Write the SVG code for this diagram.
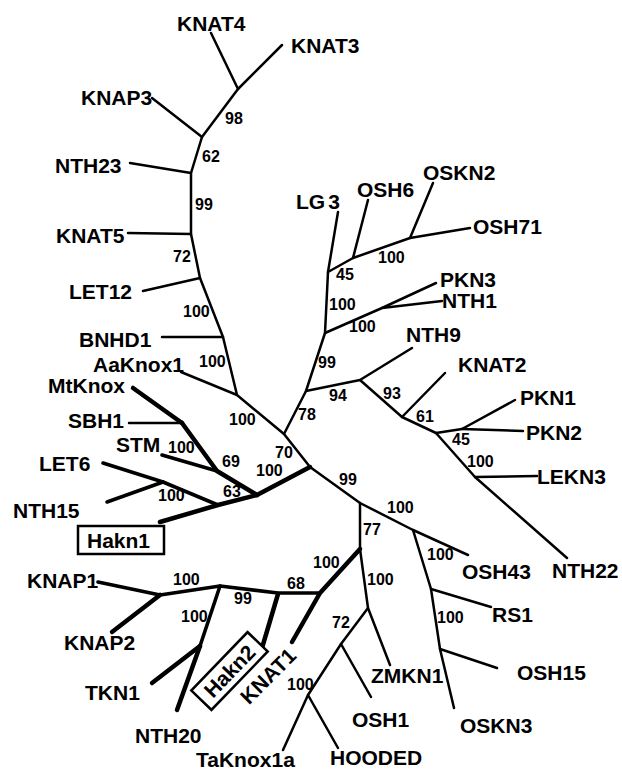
<svg xmlns="http://www.w3.org/2000/svg" width="622" height="771" viewBox="0 0 622 771">
<style>
.e{fill:none;stroke:#000;stroke-width:2.5;stroke-linecap:round;stroke-linejoin:round}
.m{stroke-width:3.6}
.t{stroke-width:4.5}
.lb{font-family:"Liberation Sans",Arial,sans-serif;font-weight:bold;font-size:21px;fill:#000}
.n{font-family:"Liberation Sans",Arial,sans-serif;font-weight:bold;font-size:16px;fill:#000}
.box{fill:#fff;stroke:#000;stroke-width:2.5}
</style>
<rect width="622" height="771" fill="#fff"/>
<g id="connectors">
<polyline class="e" points="211,33 238,89 282,45"/>
<polyline class="e" points="238,89 202,137 191,173 191,234 200,278 223,337 237,395 284,434 310,467"/>
<line class="e" x1="152" y1="98" x2="202" y2="137"/>
<line class="e" x1="130" y1="163" x2="191" y2="173"/>
<line class="e" x1="128" y1="233" x2="191" y2="234"/>
<line class="e" x1="143" y1="291" x2="200" y2="278"/>
<line class="e" x1="162" y1="337" x2="223" y2="337"/>
<line class="e" x1="181" y1="372" x2="237" y2="395"/>
<polyline class="e" points="284,434 306,391 325,333 328,272 338,212"/>
<polyline class="e" points="306,391 360,380 412,348"/>
<polyline class="e" points="360,380 402,417 436,433 475,477 567,558"/>
<line class="e" x1="402" y1="417" x2="445" y2="373"/>
<polyline class="e" points="436,433 462,429 515,400"/>
<line class="e" x1="462" y1="429" x2="523" y2="431"/>
<line class="e" x1="475" y1="477" x2="537" y2="476"/>
<polyline class="e" points="325,333 382,308 436,283"/>
<line class="e" x1="382" y1="308" x2="442" y2="301"/>
<polyline class="e" points="328,272 353,258 410,238 470,228"/>
<line class="e" x1="353" y1="258" x2="368" y2="200"/>
<line class="e" x1="410" y1="238" x2="433" y2="183"/>
<polyline class="e" points="310,467 360,503 413,530 468,555"/>
<polyline class="e" points="413,530 431,589 440,649 454,708"/>
<line class="e" x1="431" y1="589" x2="491" y2="607"/>
<line class="e" x1="440" y1="649" x2="497" y2="668"/>
<polyline class="e" points="360,503 360,549 368,608 390,665"/>
<polyline class="e" points="368,608 341,644 308,695 283,750"/>
<line class="e" x1="341" y1="644" x2="371" y2="697"/>
<line class="e" x1="308" y1="695" x2="338" y2="748"/>
<polyline class="e t" points="360,549 320,593 292,642"/>
<polyline class="e m" points="320,593 278,593 220,586 160,595 98,582"/>
<line class="e t" x1="278" y1="594" x2="262" y2="648"/>
<line class="e t" x1="160" y1="595" x2="112" y2="632"/>
<polyline class="e m" points="220,586 200,646"/>
<polyline class="e t" points="200,646 177,710"/>
<line class="e t" x1="200" y1="646" x2="152" y2="683"/>
<polyline class="e t" points="310,467 257,495 218,505 160,522"/>
<line class="e t" x1="133" y1="388" x2="182" y2="423"/>
<line class="e" x1="129" y1="423" x2="180" y2="423"/>
<polyline class="e t" points="182,423 217,471 257,495"/>
<line class="e m" x1="162" y1="455" x2="217" y2="471"/>
<polyline class="e m" points="103,463 163,482 218,505"/>
<line class="e m" x1="107" y1="502" x2="163" y2="482"/>
</g>
<g id="support">
<text class="n" x="225" y="124">98</text>
<text class="n" x="202" y="162">62</text>
<text class="n" x="195" y="210">99</text>
<text class="n" x="173" y="262">72</text>
<text class="n" x="183" y="317">100</text>
<text class="n" x="199" y="367">100</text>
<text class="n" x="229" y="425">100</text>
<text class="n" x="275" y="458">70</text>
<text class="n" x="298" y="420">78</text>
<text class="n" x="318" y="368">99</text>
<text class="n" x="349" y="332">100</text>
<text class="n" x="329" y="310">100</text>
<text class="n" x="336" y="280">45</text>
<text class="n" x="378" y="263">100</text>
<text class="n" x="329" y="401">94</text>
<text class="n" x="383" y="399">93</text>
<text class="n" x="416" y="422">61</text>
<text class="n" x="452" y="445">45</text>
<text class="n" x="467" y="467">100</text>
<text class="n" x="339" y="485">99</text>
<text class="n" x="387" y="513">100</text>
<text class="n" x="427" y="560">100</text>
<text class="n" x="437" y="623">100</text>
<text class="n" x="363" y="535">77</text>
<text class="n" x="367" y="585">100</text>
<text class="n" x="332" y="628">72</text>
<text class="n" x="287" y="690">100</text>
<text class="n" x="313" y="568">100</text>
<text class="n" x="287" y="589">68</text>
<text class="n" x="234" y="604">99</text>
<text class="n" x="173" y="585">100</text>
<text class="n" x="181" y="622">100</text>
<text class="n" x="256" y="476">100</text>
<text class="n" x="222" y="467">69</text>
<text class="n" x="223" y="497">63</text>
<text class="n" x="168" y="453">100</text>
<text class="n" x="158" y="501">100</text>
</g>
<g id="KNAT4"><text class="lb" x="177" y="31">KNAT4</text></g>
<g id="KNAT3"><text class="lb" x="291" y="53">KNAT3</text></g>
<g id="KNAP3"><text class="lb" x="81" y="105">KNAP3</text></g>
<g id="NTH23"><text class="lb" x="55" y="173">NTH23</text></g>
<g id="KNAT5"><text class="lb" x="56" y="243">KNAT5</text></g>
<g id="LET12"><text class="lb" x="69" y="299">LET12</text></g>
<g id="BNHD1"><text class="lb" x="79" y="347">BNHD1</text></g>
<g id="AaKnox1"><text class="lb" x="93" y="372">AaKnox1</text></g>
<g id="MtKnox"><text class="lb" x="48" y="393">MtKnox</text></g>
<g id="SBH1"><text class="lb" x="68" y="428">SBH1</text></g>
<g id="STM"><text class="lb" x="116" y="452">STM</text></g>
<g id="LET6"><text class="lb" x="39" y="471">LET6</text></g>
<g id="NTH15"><text class="lb" x="13" y="518">NTH15</text></g>
<g id="Hakn1"><rect class="box" x="78" y="526" width="86" height="28"/><text class="lb" x="87" y="548">Hakn1</text></g>
<g id="KNAP1"><text class="lb" x="27" y="588">KNAP1</text></g>
<g id="KNAP2"><text class="lb" x="64" y="650">KNAP2</text></g>
<g id="TKN1"><text class="lb" x="85" y="700">TKN1</text></g>
<g id="NTH20"><text class="lb" x="135" y="743">NTH20</text></g>
<g id="Hakn2" transform="translate(229.5,671) rotate(-46)"><rect class="box" x="-40.5" y="-14" width="81" height="28"/><text class="lb" x="0" y="7.5" text-anchor="middle">Hakn2</text></g>
<g id="KNAT1" transform="translate(268,676) rotate(-45)"><text class="lb" x="0" y="7.5" text-anchor="middle">KNAT1</text></g>
<g id="TaKnox1a"><text class="lb" x="196" y="767">TaKnox1a</text></g>
<g id="HOODED"><text class="lb" x="330" y="765">HOODED</text></g>
<g id="OSH1"><text class="lb" x="352" y="727">OSH1</text></g>
<g id="ZMKN1"><text class="lb" x="371" y="683">ZMKN1</text></g>
<g id="OSKN3"><text class="lb" x="460" y="733">OSKN3</text></g>
<g id="OSH15"><text class="lb" x="517" y="680">OSH15</text></g>
<g id="RS1"><text class="lb" x="492" y="622">RS1</text></g>
<g id="OSH43"><text class="lb" x="462" y="579">OSH43</text></g>
<g id="NTH22"><text class="lb" x="552" y="578">NTH22</text></g>
<g id="LEKN3"><text class="lb" x="537" y="484">LEKN3</text></g>
<g id="PKN2"><text class="lb" x="526" y="440">PKN2</text></g>
<g id="PKN1"><text class="lb" x="520" y="405">PKN1</text></g>
<g id="KNAT2"><text class="lb" x="458" y="372">KNAT2</text></g>
<g id="NTH9"><text class="lb" x="406" y="342">NTH9</text></g>
<g id="NTH1"><text class="lb" x="442" y="308">NTH1</text></g>
<g id="PKN3"><text class="lb" x="440" y="287">PKN3</text></g>
<g id="OSH71"><text class="lb" x="473" y="234">OSH71</text></g>
<g id="OSKN2"><text class="lb" x="423" y="180">OSKN2</text></g>
<g id="OSH6"><text class="lb" x="357" y="197">OSH6</text></g>
<g id="LG3"><text class="lb" x="296" y="209">LG<tspan dx="3">3</tspan></text></g>
</svg>
